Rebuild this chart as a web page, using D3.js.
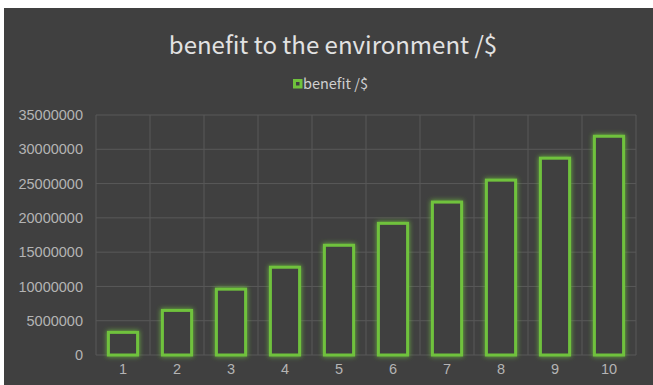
<!DOCTYPE html>
<html>
<head>
<meta charset="utf-8">
<script src="https://cdn.jsdelivr.net/npm/d3@7"></script>
<style>
  html, body { margin: 0; padding: 0; background: #ffffff; }
  svg { display: block; font-family: "Noto Sans CJK SC", "Noto Sans", sans-serif; }
</style>
</head>
<body>
<svg id="chart" width="653" height="385"></svg>
<script>
const categories = ["1", "2", "3", "4", "5", "6", "7", "8", "9", "10"];
const benefit = [3300000, 6500000, 9600000, 12800000, 16000000, 19200000, 22300000, 25500000, 28700000, 31900000];
const yTicks = [0, 5000000, 10000000, 15000000, 20000000, 25000000, 30000000, 35000000];

const svg = d3.select("#chart");
const green = "#6fc23c";

// background panel
svg.append("rect")
    .attr("x", 4).attr("y", 8)
    .attr("width", 649).attr("height", 377)
    .attr("fill", "#404040");

const defs = svg.append("defs");
const glow = defs.append("filter").attr("id", "glow")
    .attr("x", "-50%").attr("y", "-50%").attr("width", "200%").attr("height", "200%");
glow.append("feGaussianBlur").attr("in", "SourceGraphic").attr("stdDeviation", 2.5).attr("result", "blur");
const merge = glow.append("feMerge");
merge.append("feMergeNode").attr("in", "blur");
merge.append("feMergeNode").attr("in", "SourceGraphic");

const margin = { left: 96, right: 636, top: 115, bottom: 355 };

const x = d3.scaleBand()
    .domain(categories)
    .range([margin.left, margin.right])
    .paddingInner(0.46)
    .paddingOuter(0.23);

const xGrid = d3.scaleLinear().domain([0, categories.length]).range([margin.left, margin.right]);

const y = d3.scaleLinear()
    .domain([0, 35000000])
    .range([margin.bottom, margin.top]);

// horizontal gridlines
svg.append("g")
    .selectAll("line")
    .data(yTicks)
    .join("line")
    .attr("x1", margin.left).attr("x2", margin.right)
    .attr("y1", d => y(d)).attr("y2", d => y(d))
    .attr("stroke", "#595959").attr("stroke-width", 1);

// vertical gridlines
svg.append("g")
    .selectAll("line")
    .data(d3.range(categories.length + 1))
    .join("line")
    .attr("x1", d => xGrid(d)).attr("x2", d => xGrid(d))
    .attr("y1", margin.top).attr("y2", margin.bottom)
    .attr("stroke", "#595959").attr("stroke-width", 1);

// y axis labels
const yAxis = svg.append("g")
    .attr("transform", `translate(${margin.left - 13},0)`)
    .call(d3.axisLeft(y).tickValues(yTicks).tickSize(0).tickPadding(0).tickFormat(d3.format("d")));
yAxis.select(".domain").remove();
yAxis.selectAll("text")
    .attr("fill", "#b4b4b4")
    .style("font-size", "14.5px");

// x axis labels
const xAxis = svg.append("g")
    .attr("transform", `translate(0,${margin.bottom + 9})`)
    .call(d3.axisBottom(x).tickSize(0).tickPadding(0));
xAxis.select(".domain").remove();
xAxis.selectAll("text")
    .attr("fill", "#b4b4b4")
    .style("font-size", "14.5px");

// bars
svg.append("g")
    .selectAll("rect")
    .data(benefit)
    .join("rect")
    .attr("x", (d, i) => x(categories[i]))
    .attr("y", d => y(d))
    .attr("width", x.bandwidth())
    .attr("height", d => y(0) - y(d))
    .attr("fill", "#404040")
    .attr("stroke", green)
    .attr("stroke-width", 3)
    .attr("filter", "url(#glow)");

// title
svg.append("text")
    .attr("x", 333).attr("y", 54)
    .attr("text-anchor", "middle")
    .attr("fill", "#e2e2e2")
    .style("font-size", "24px")
    .text("benefit to the environment /$");

// legend
const legend = svg.append("g").attr("transform", "translate(293,83)");
legend.append("rect")
    .attr("x", 1.5).attr("y", -2.5)
    .attr("width", 6.5).attr("height", 6.5)
    .attr("fill", "#404040")
    .attr("stroke", green)
    .attr("stroke-width", 3);
legend.append("text")
    .attr("x", 10).attr("y", 5.5)
    .attr("fill", "#cfcfcf")
    .style("font-size", "14.5px")
    .text("benefit /$");
</script>
</body>
</html>
